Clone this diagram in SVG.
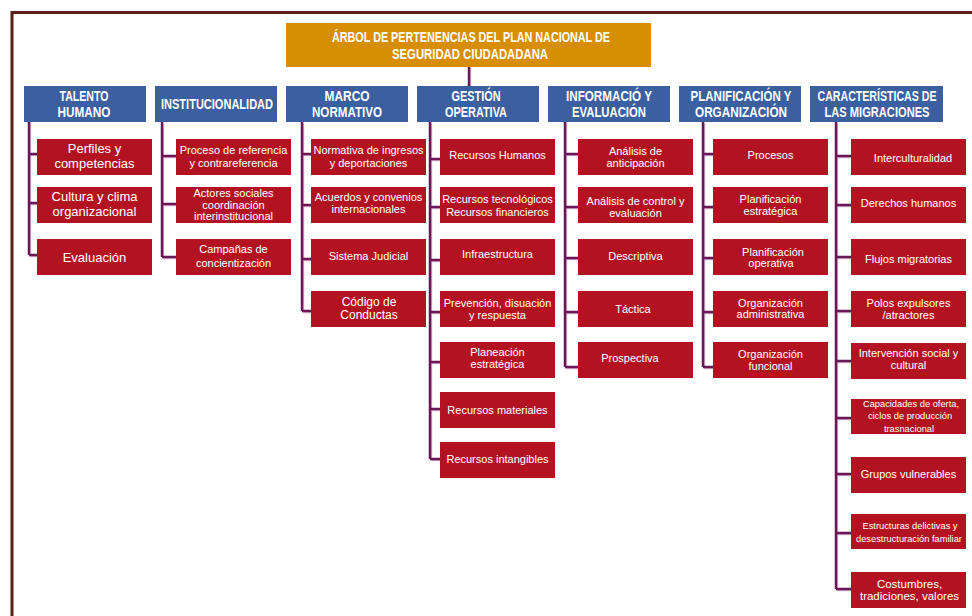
<svg xmlns="http://www.w3.org/2000/svg" width="972" height="616" viewBox="0 0 972 616">
<style>
.frame{fill:none;stroke:#5B1F13;stroke-width:3}
.ttl{fill:#D88E02}
.hdr{fill:#3B5F9F}
.leaf{fill:#B31321}
.ht{font-family:"Liberation Sans",Arial,sans-serif;font-weight:bold;font-size:14px;fill:#fff;text-anchor:middle}
.lt{font-family:"Liberation Sans",Arial,sans-serif;font-size:11px;fill:#fff;text-anchor:middle}
.big{font-size:13px}
.sm{font-size:9.3px}
.conn{fill:none;stroke:#6A1758;stroke-width:2.5}
.shadow{fill:none;stroke:#D2B4CC;stroke-width:2}
</style>
<rect width="972" height="616" fill="#fff"/>
<path class="frame" d="M12,616 V12.5 H972"/>

<g id="connectors">
<g transform="translate(1.2,1.2)">
<path class="shadow" d="M469,67 V86 M29,122 V255 M29,154 H37 M29,203 H37 M29,255 H37 M162,122 V257 M162,156 H176 M162,204 H176 M162,257 H176 M302,122 V311 M302,154 H311 M302,205 H311 M302,259 H311 M302,311 H311 M430,122 V459 M430,159 H440 M430,207 H440 M430,260 H440 M430,312 H440 M430,362 H440 M430,409 H440 M430,459 H440 M565,122 V367 M565,154 H578 M565,207 H578 M565,258 H578 M565,312 H578 M565,367 H578 M703,122 V367 M703,154 H713 M703,207 H713 M703,258 H713 M703,312 H713 M703,367 H713 M836,122 V589 M836,156 H851 M836,205 H851 M836,257 H851 M836,311 H851 M836,361 H851 M836,418 H851 M836,474 H851 M836,533 H851 M836,589 H851"/>
</g>
<path class="conn" d="M469,67 V86 M29,122 V255 M29,154 H37 M29,203 H37 M29,255 H37 M162,122 V257 M162,156 H176 M162,204 H176 M162,257 H176 M302,122 V311 M302,154 H311 M302,205 H311 M302,259 H311 M302,311 H311 M430,122 V459 M430,159 H440 M430,207 H440 M430,260 H440 M430,312 H440 M430,362 H440 M430,409 H440 M430,459 H440 M565,122 V367 M565,154 H578 M565,207 H578 M565,258 H578 M565,312 H578 M565,367 H578 M703,122 V367 M703,154 H713 M703,207 H713 M703,258 H713 M703,312 H713 M703,367 H713 M836,122 V589 M836,156 H851 M836,205 H851 M836,257 H851 M836,311 H851 M836,361 H851 M836,418 H851 M836,474 H851 M836,533 H851 M836,589 H851"/>
</g>

<g id="root">
<rect class="ttl" x="286" y="23" width="365" height="44"/>
<text class="ht" x="471" y="42" textLength="278" lengthAdjust="spacingAndGlyphs">ÁRBOL DE PERTENENCIAS DEL PLAN NACIONAL DE</text>
<text class="ht" x="470" y="59" textLength="156" lengthAdjust="spacingAndGlyphs">SEGURIDAD CIUDADADANA</text>
</g>

<g id="h-talento">
<rect class="hdr" x="24" y="86" width="122" height="36"/>
<text class="ht" x="84" y="101" textLength="49" lengthAdjust="spacingAndGlyphs">TALENTO</text>
<text class="ht" x="84" y="117" textLength="53" lengthAdjust="spacingAndGlyphs">HUMANO</text>
</g>
<g id="h-institucionalidad">
<rect class="hdr" x="155" y="86" width="122" height="36"/>
<text class="ht" x="217" y="109" textLength="112" lengthAdjust="spacingAndGlyphs">INSTITUCIONALIDAD</text>
</g>
<g id="h-marco">
<rect class="hdr" x="286" y="86" width="122" height="36"/>
<text class="ht" x="347" y="101" textLength="45" lengthAdjust="spacingAndGlyphs">MARCO</text>
<text class="ht" x="347" y="117" textLength="70" lengthAdjust="spacingAndGlyphs">NORMATIVO</text>
</g>
<g id="h-gestion">
<rect class="hdr" x="417" y="86" width="122" height="36"/>
<text class="ht" x="476" y="101" textLength="49" lengthAdjust="spacingAndGlyphs">GESTIÓN</text>
<text class="ht" x="476" y="117" textLength="62" lengthAdjust="spacingAndGlyphs">OPERATIVA</text>
</g>
<g id="h-informacion">
<rect class="hdr" x="548" y="86" width="122" height="36"/>
<text class="ht" x="609" y="101" textLength="86" lengthAdjust="spacingAndGlyphs">INFORMACIÓ Y</text>
<text class="ht" x="609" y="117" textLength="74" lengthAdjust="spacingAndGlyphs">EVALUACIÓN</text>
</g>
<g id="h-planificacion">
<rect class="hdr" x="679" y="86" width="122" height="36"/>
<text class="ht" x="741" y="101" textLength="101" lengthAdjust="spacingAndGlyphs">PLANIFICACIÓN Y</text>
<text class="ht" x="741" y="117" textLength="92" lengthAdjust="spacingAndGlyphs">ORGANIZACIÓN</text>
</g>
<g id="h-caracteristicas">
<rect class="hdr" x="810" y="86" width="133" height="36"/>
<text class="ht" x="877" y="101" textLength="119" lengthAdjust="spacingAndGlyphs">CARACTERÍSTICAS DE</text>
<text class="ht" x="877" y="117" textLength="105" lengthAdjust="spacingAndGlyphs">LAS MIGRACIONES</text>
</g>

<!-- Column 1 -->
<g id="c1-1"><rect class="leaf" x="37" y="139" width="115" height="36"/><text class="lt big" x="94.5" y="153">Perfiles y</text><text class="lt big" x="94.5" y="168">competencias</text></g>
<g id="c1-2"><rect class="leaf" x="37" y="187" width="115" height="36"/><text class="lt big" x="94.5" y="201">Cultura y clima</text><text class="lt big" x="94.5" y="216">organizacional</text></g>
<g id="c1-3"><rect class="leaf" x="37" y="239" width="115" height="36"/><text class="lt big" x="94.5" y="262">Evaluación</text></g>

<!-- Column 2 -->
<g id="c2-1"><rect class="leaf" x="176" y="139" width="115" height="36"/><text class="lt" x="233.5" y="154">Proceso de referencia</text><text class="lt" x="233.5" y="167">y contrareferencia</text></g>
<g id="c2-2"><rect class="leaf" x="176" y="187" width="115" height="36"/><text class="lt" x="233.5" y="197">Actores sociales</text><text class="lt" x="233.5" y="208.5">coordinación</text><text class="lt" x="233.5" y="220">interinstitucional</text></g>
<g id="c2-3"><rect class="leaf" x="176" y="239" width="115" height="36"/><text class="lt" x="233.5" y="253">Campañas de</text><text class="lt" x="233.5" y="267">concientización</text></g>

<!-- Column 3 -->
<g id="c3-1"><rect class="leaf" x="311" y="139" width="115" height="36"/><text class="lt" x="368.5" y="154">Normativa de ingresos</text><text class="lt" x="368.5" y="167">y deportaciones</text></g>
<g id="c3-2"><rect class="leaf" x="311" y="187" width="115" height="36"/><text class="lt" x="368.5" y="201">Acuerdos y convenios</text><text class="lt" x="368.5" y="213">internacionales</text></g>
<g id="c3-3"><rect class="leaf" x="311" y="239" width="115" height="36"/><text class="lt" x="368.5" y="260">Sistema Judicial</text></g>
<g id="c3-4"><rect class="leaf" x="311" y="291" width="115" height="36"/><text class="lt" x="369" y="306" style="font-size:12px">Código de</text><text class="lt" x="369" y="319" style="font-size:12px">Conductas</text></g>

<!-- Column 4 -->
<g id="c4-1"><rect class="leaf" x="440" y="139" width="115" height="36"/><text class="lt" x="497.5" y="159">Recursos Humanos</text></g>
<g id="c4-2"><rect class="leaf" x="440" y="187" width="115" height="36"/><text class="lt" x="497.5" y="203">Recursos tecnológicos</text><text class="lt" x="497.5" y="215.5">Recursos financieros</text></g>
<g id="c4-3"><rect class="leaf" x="440" y="239" width="115" height="36"/><text class="lt" x="497.5" y="258">Infraestructura</text></g>
<g id="c4-4"><rect class="leaf" x="440" y="291" width="115" height="36"/><text class="lt" x="497.5" y="307">Prevención, disuación</text><text class="lt" x="497.5" y="319">y respuesta</text></g>
<g id="c4-5"><rect class="leaf" x="440" y="342" width="115" height="36"/><text class="lt" x="497.5" y="356">Planeación</text><text class="lt" x="497.5" y="367.5">estratégica</text></g>
<g id="c4-6"><rect class="leaf" x="440" y="392" width="115" height="36"/><text class="lt" x="497.5" y="414">Recursos materiales</text></g>
<g id="c4-7"><rect class="leaf" x="440" y="442" width="115" height="36"/><text class="lt" x="497.5" y="463">Recursos intangibles</text></g>

<!-- Column 5 -->
<g id="c5-1"><rect class="leaf" x="578" y="139" width="115" height="36"/><text class="lt" x="635.5" y="155">Análisis de</text><text class="lt" x="635.5" y="166.5">anticipación</text></g>
<g id="c5-2"><rect class="leaf" x="578" y="187" width="115" height="36"/><text class="lt" x="635.5" y="205">Análisis de control y</text><text class="lt" x="635.5" y="217">evaluación</text></g>
<g id="c5-3"><rect class="leaf" x="578" y="239" width="115" height="36"/><text class="lt" x="635.5" y="260">Descriptiva</text></g>
<g id="c5-4"><rect class="leaf" x="578" y="291" width="115" height="36"/><text class="lt" x="633" y="313">Táctica</text></g>
<g id="c5-5"><rect class="leaf" x="578" y="342" width="115" height="36"/><text class="lt" x="630" y="362">Prospectiva</text></g>

<!-- Column 6 -->
<g id="c6-1"><rect class="leaf" x="713" y="139" width="115" height="36"/><text class="lt" x="770.5" y="159">Procesos</text></g>
<g id="c6-2"><rect class="leaf" x="713" y="187" width="115" height="36"/><text class="lt" x="770.5" y="203">Planificación</text><text class="lt" x="770.5" y="214.5">estratégica</text></g>
<g id="c6-3"><rect class="leaf" x="713" y="239" width="115" height="36"/><text class="lt" x="773" y="256">Planificación</text><text class="lt" x="771" y="267">operativa</text></g>
<g id="c6-4"><rect class="leaf" x="713" y="291" width="115" height="36"/><text class="lt" x="770.5" y="307">Organización</text><text class="lt" x="770.5" y="317.5">administrativa</text></g>
<g id="c6-5"><rect class="leaf" x="713" y="342" width="115" height="36"/><text class="lt" x="770.5" y="358">Organización</text><text class="lt" x="770.5" y="369.5">funcional</text></g>

<!-- Column 7 -->
<g id="c7-1"><rect class="leaf" x="851" y="139" width="115" height="36"/><text class="lt" x="913" y="162">Interculturalidad</text></g>
<g id="c7-2"><rect class="leaf" x="851" y="187" width="115" height="36"/><text class="lt" x="908.5" y="207">Derechos humanos</text></g>
<g id="c7-3"><rect class="leaf" x="851" y="239" width="115" height="36"/><text class="lt" x="908.5" y="263">Flujos migratorias</text></g>
<g id="c7-4"><rect class="leaf" x="851" y="291" width="115" height="36"/><text class="lt" x="908.5" y="307">Polos expulsores</text><text class="lt" x="908.5" y="319">/atractores</text></g>
<g id="c7-5"><rect class="leaf" x="851" y="343" width="115" height="36"/><text class="lt" x="908.5" y="357">Intervención social y</text><text class="lt" x="908.5" y="369">cultural</text></g>
<g id="c7-6"><rect class="leaf" x="851" y="399" width="115" height="35"/><text class="lt sm" x="911" y="407">Capacidades de oferta,</text><text class="lt sm" x="910" y="419">ciclos de producción</text><text class="lt sm" x="909" y="432">trasnacional</text></g>
<g id="c7-7"><rect class="leaf" x="851" y="457" width="115" height="36"/><text class="lt" x="908.5" y="478">Grupos vulnerables</text></g>
<g id="c7-8"><rect class="leaf" x="851" y="514" width="115" height="35"/><text class="lt sm" x="910" y="529">Estructuras delictivas y</text><text class="lt sm" x="909" y="542">desestructuración familiar</text></g>
<g id="c7-9"><rect class="leaf" x="851" y="572" width="115" height="36"/><text class="lt" x="909.5" y="588" style="font-size:11.5px">Costumbres,</text><text class="lt" x="909.5" y="600" style="font-size:11.5px">tradiciones, valores</text></g>
</svg>
